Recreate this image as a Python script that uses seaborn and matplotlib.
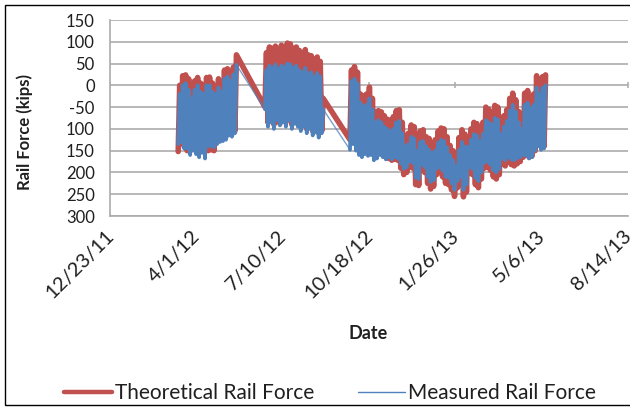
import numpy as np
import pandas as pd
import matplotlib
matplotlib.use("Agg")
import matplotlib.pyplot as plt
import matplotlib.transforms as mtransforms
from matplotlib.lines import Line2D
from matplotlib.patches import Rectangle
import seaborn as sns

# ---- data -------------------------------------------------------------
# Three recording periods; each sample step holds the low and the high
# rail force (kips) reached within that step.
block_starts = ["2012-03-11", "2012-06-19 12:00", "2012-09-26"]
sample_step_hours = 83

theo_lo_1 = [-152, -130, -140, -150, -150, -140, -145, -150, -140, -145,
             -150, -148, -150, -130, -125, -120, -118, -110, -112, -105]
theo_hi_1 = [0, 22, 24, 15, -10, 10, 18, 5, 0, 18,
             19, 5, -5, 15, 5, 35, 38, 30, 42, 70]
meas_lo_1 = [-135, -130, -145, -145, -160, -150, -158, -165, -155, -168,
             -140, -140, -142, -135, -130, -128, -125, -115, -118, -110]
meas_hi_1 = [-20, 0, 5, -10, -30, -10, 0, -15, -20, 0,
             0, -15, -20, -5, -15, 15, 20, 10, 25, 47]

theo_lo_2 = [-50, -85, -80, -90, -75, -88, -80, -85, -78, -90,
             -82, -88, -95, -90, -100, -95, -105, -100, -110, -105]
theo_hi_2 = [75, 88, 85, 90, 82, 92, 88, 97, 95, 85,
             88, 80, 75, 82, 70, 68, 60, 65, 55, -30]
meas_lo_2 = [-55, -95, -85, -100, -80, -92, -85, -95, -80, -100,
             -88, -95, -105, -95, -110, -100, -115, -108, -120, -110]
meas_hi_2 = [35, 45, 40, 48, 38, 45, 42, 50, 48, 40,
             45, 35, 30, 40, 28, 30, 20, 28, 20, -55]

theo_lo_3 = [-125, -118, -125, -150, -152, -148, -150, -145, -150, -148,
             -152, -160, -165, -168, -172, -170, -172, -190, -205, -200,
             -187, -190, -228, -230, -195, -200, -225, -238, -232, -205,
             -200, -210, -225, -228, -240, -255, -235, -225, -256, -245,
             -200, -205, -228, -235, -215, -190, -188, -195, -210, -215,
             -205, -180, -185, -175, -182, -185, -180, -175, -165, -160,
             -165, -162, -150, -135, -130, -140]
theo_hi_3 = [35, 43, 30, -20, -24, -20, -4, -30, -62, -58,
             -61, -70, -78, -80, -72, -58, -56, -85, -120, -110,
             -91, -95, -128, -105, -102, -118, -122, -132, -125, -105,
             -98, -100, -118, -138, -150, -164, -120, -102, -112, -118,
             -100, -85, -88, -102, -85, -50, -55, -62, -46, -50,
             -90, -70, -56, -30, -18, -33, -60, -78, -18, -12,
             -27, -20, 22, 5, 20, 24]
meas_lo_3 = [-148, -135, -150, -160, -165, -158, -162, -160, -172, -168,
             -160, -165, -170, -165, -170, -165, -168, -180, -192, -188,
             -175, -178, -212, -215, -182, -188, -210, -222, -218, -192,
             -188, -196, -210, -212, -225, -240, -220, -210, -240, -228,
             -188, -192, -212, -220, -200, -178, -175, -182, -195, -200,
             -192, -168, -172, -165, -170, -172, -168, -165, -160, -162,
             -168, -165, -150, -140, -148, -145]
meas_hi_3 = [10, 15, 5, -40, -48, -45, -30, -55, -85, -80,
             -85, -95, -100, -105, -100, -85, -82, -110, -140, -135,
             -118, -122, -150, -130, -128, -140, -148, -155, -150, -132,
             -125, -128, -142, -160, -172, -185, -148, -130, -140, -142,
             -125, -112, -115, -128, -112, -80, -85, -90, -75, -78,
             -112, -95, -82, -58, -45, -60, -85, -100, -45, -40,
             -52, -45, -5, -20, -5, 0]

x_tick_dates = ["2011-12-23", "2012-04-01", "2012-07-10", "2012-10-18",
                "2013-01-26", "2013-05-06", "2013-08-14"]
x_tick_labels = ["12/23/11", "4/1/12", "7/10/12", "10/18/12",
                 "1/26/13", "5/6/13", "8/14/13"]
y_ticks = [150, 100, 50, 0, -50, -100, -150, -200, -250, -300]
y_tick_labels = ["150", "100", "50", "0", "-50", "100", "150", "200", "250", "300"]

series_names = ["Theoretical Rail Force", "Measured Rail Force"]


def swing(start, lo, hi):
    """Alternate low/high readings in time across one recording period."""
    t0 = pd.Timestamp(start)
    step = pd.Timedelta(hours=sample_step_hours)
    times, vals = [], []
    for i, (a, b) in enumerate(zip(lo, hi)):
        times += [t0 + i * step, t0 + i * step + step / 2]
        vals += [a, b]
    return times, vals


frames = []
blocks = [(theo_lo_1, theo_hi_1, meas_lo_1, meas_hi_1),
          (theo_lo_2, theo_hi_2, meas_lo_2, meas_hi_2),
          (theo_lo_3, theo_hi_3, meas_lo_3, meas_hi_3)]
for k, (start, (tl, th, ml, mh)) in enumerate(zip(block_starts, blocks)):
    t, theo = swing(start, tl, th)
    _, meas = swing(start, ml, mh)
    frames.append(pd.DataFrame({"date": t, "period": k,
                                series_names[0]: theo,
                                series_names[1]: meas}))
df = pd.concat(frames, ignore_index=True)

# ---- style ------------------------------------------------------------
sns.set_theme(style="white")
plt.rcParams["font.family"] = ["Lato", "DejaVu Sans"]
plt.rcParams["path.simplify"] = False

RED = "#C0504D"
BLUE = "#4F81BD"
GRID = "#ABABAB"
TEXT = "#1f1f1f"

fig = plt.figure(figsize=(6.3, 4.09), dpi=100)
ax = fig.add_axes([110 / 630, 1 - 216 / 409, 518 / 630, 196 / 409])

# theoretical force: one continuous thick line across the gaps
sns.lineplot(data=df, x="date", y=series_names[0], ax=ax, color=RED,
             linewidth=4.0, sort=False, estimator=None,
             solid_joinstyle="round", solid_capstyle="round", zorder=3)
# measured force: thin line bridging the gaps, dense trace within periods
sns.lineplot(data=df, x="date", y=series_names[1], ax=ax, color=BLUE,
             linewidth=1.0, sort=False, estimator=None, alpha=0.75, zorder=4)
sns.lineplot(data=df, x="date", y=series_names[1], units="period", ax=ax,
             color=BLUE, linewidth=2.7, sort=False, estimator=None,
             solid_joinstyle="round", zorder=5)

# tick marks where the date axis crosses zero
tick_ts = pd.to_datetime(x_tick_dates)
ax.scatter(tick_ts, np.zeros(len(tick_ts)), marker="|", s=22,
           color=GRID, linewidths=1.1, zorder=2)

ax.set_xlim(tick_ts[0], tick_ts[-1])
ax.set_ylim(y_ticks[-1], y_ticks[0])
ax.set_yticks(y_ticks)
ax.set_yticklabels(y_tick_labels)
ax.set_xticks(tick_ts)
ax.set_xticklabels(x_tick_labels, rotation=45, ha="right",
                   rotation_mode="anchor")

ax.yaxis.grid(True, color=GRID, linewidth=1.2)
ax.xaxis.grid(False)
for side in ["top", "right"]:
    ax.spines[side].set_visible(False)
for side in ["left", "bottom"]:
    ax.spines[side].set_color(GRID)
    ax.spines[side].set_linewidth(1.2)

ax.tick_params(axis="y", which="major", length=7, width=1.2, color=GRID,
               direction="out", labelsize=12, labelcolor=TEXT, pad=4)
ax.tick_params(axis="x", which="major", length=0, labelsize=14.5,
               labelcolor=TEXT, pad=8)
shift = mtransforms.ScaledTranslation(-5 / 100, 0, fig.dpi_scale_trans)
for lab in ax.get_xticklabels():
    lab.set_transform(lab.get_transform() + shift)

ax.set_ylabel("Rail Force (kips)", fontsize=12, fontweight="bold", color=TEXT)
ax.yaxis.set_label_coords(-0.149, 0.43)
ax.set_xlabel("Date", fontsize=13, fontweight="bold", color=TEXT)
ax.xaxis.set_label_coords(0.498, -0.597)
ax.xaxis.label.set_va("center")

handles = [Line2D([], [], color=RED, linewidth=3.2),
           Line2D([], [], color=BLUE, linewidth=1.0)]
fig.legend(handles, series_names, loc="center", ncol=2,
           bbox_to_anchor=(330 / 630, 1 - 393 / 409), frameon=False,
           fontsize=15, handlelength=2.3, handletextpad=0.12,
           columnspacing=2.1, labelcolor=TEXT)

fig.patches.append(Rectangle((5 / 630, 1 - 405 / 409), 640 / 630, 400 / 409,
                             transform=fig.transFigure, fill=False,
                             edgecolor="black", linewidth=1.0))

fig.savefig("out.png", dpi=100)
